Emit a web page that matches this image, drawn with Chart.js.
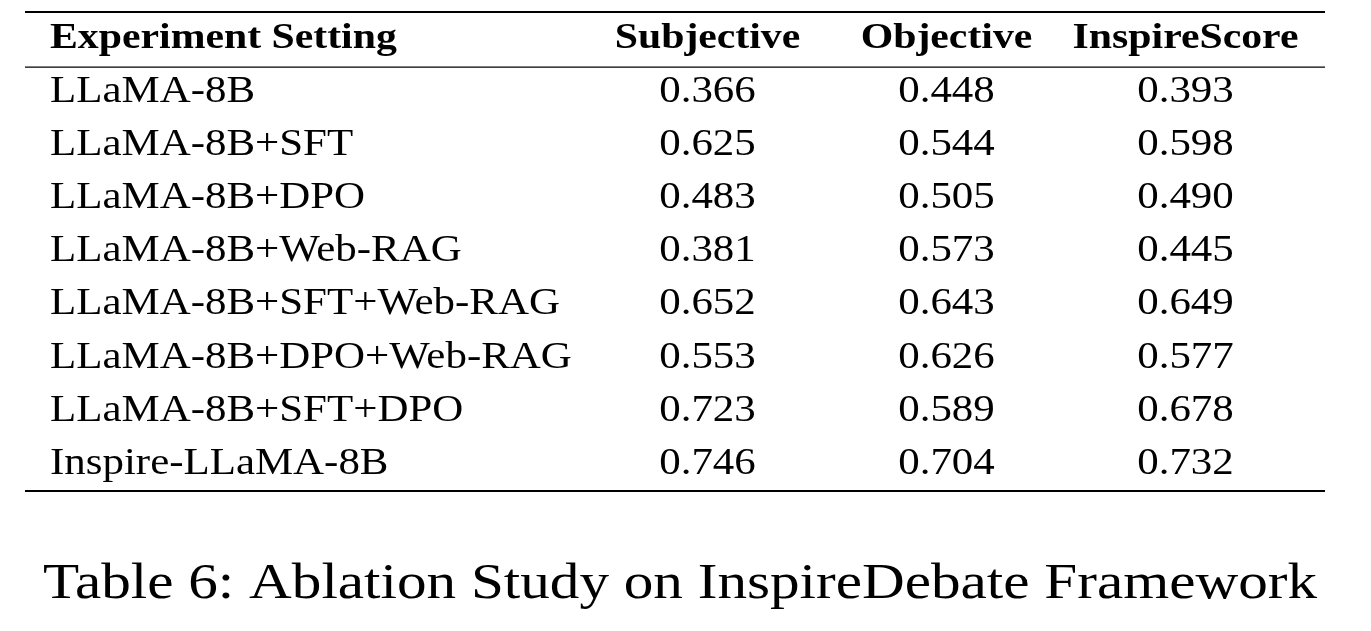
<!DOCTYPE html>
<html>
<head>
<meta charset="utf-8">
<script src="https://cdn.jsdelivr.net/npm/chart.js@4/dist/chart.umd.min.js"></script>
<style>
  html, body { margin: 0; padding: 0; background: #fff; }
  canvas { display: block; }
</style>
</head>
<body>
<canvas id="c" width="1371" height="631"></canvas>
<script>
const columns = ['Subjective', 'Objective', 'InspireScore'];
const firstHeader = 'Experiment Setting';
const settings = [
  'LLaMA-8B',
  'LLaMA-8B+SFT',
  'LLaMA-8B+DPO',
  'LLaMA-8B+Web-RAG',
  'LLaMA-8B+SFT+Web-RAG',
  'LLaMA-8B+DPO+Web-RAG',
  'LLaMA-8B+SFT+DPO',
  'Inspire-LLaMA-8B'
];
const subjective = [0.366, 0.625, 0.483, 0.381, 0.652, 0.553, 0.723, 0.746];
const objective = [0.448, 0.544, 0.505, 0.573, 0.643, 0.626, 0.589, 0.704];
const inspireScore = [0.393, 0.598, 0.490, 0.445, 0.649, 0.577, 0.678, 0.732];
const caption = 'Table 6: Ablation Study on InspireDebate Framework';

const series = [subjective, objective, inspireScore];
const rowLabels = ['header'].concat(settings);

const serif = '"Liberation Serif", "Times New Roman", serif';
const stretch = 1.16; // reference text is wider than Liberation Serif

function text(ctx, s, px, py) {
  ctx.save();
  ctx.translate(px, py);
  ctx.scale(stretch, 1);
  ctx.fillText(s, 0, 0);
  ctx.restore();
}

// draws the table text and rules at the scales' pixel positions
const tablePlugin = {
  id: 'table',
  afterDraw(chart) {
    const ctx = chart.ctx;
    const x = chart.scales.x, y = chart.scales.y;
    const area = chart.chartArea;
    const left = 25, right = 1325;
    ctx.save();
    ctx.fillStyle = '#000';
    ctx.textBaseline = 'middle';

    // header
    ctx.font = 'bold 36px ' + serif;
    ctx.textAlign = 'left';
    text(ctx, firstHeader, 50, y.getPixelForValue(0));
    ctx.textAlign = 'center';
    columns.forEach((c, i) => text(ctx, c, x.getPixelForValue(i), y.getPixelForValue(0)));

    // body
    ctx.font = '37px ' + serif;
    settings.forEach((s, r) => {
      const py = y.getPixelForValue(r + 1);
      ctx.textAlign = 'left';
      text(ctx, s, 50, py);
      ctx.textAlign = 'center';
      series.forEach((vals, i) => text(ctx, vals[r].toFixed(3), x.getPixelForValue(i), py));
    });

    // rules
    const rule = (py, w) => {
      ctx.lineWidth = w;
      ctx.beginPath();
      ctx.moveTo(left, py);
      ctx.lineTo(right, py);
      ctx.stroke();
    };
    const half = (y.getPixelForValue(1) - y.getPixelForValue(0)) / 2;
    rule(area.top, 2);
    rule(y.getPixelForValue(0) + half + 2, 1.3);
    rule(area.bottom, 2);

    // caption
    ctx.font = '51px ' + serif;
    ctx.textAlign = 'center';
    text(ctx, caption, 680, 585);
    ctx.restore();
  }
};

new Chart(document.getElementById('c'), {
  type: 'bar',
  data: { labels: columns, datasets: [] },
  options: {
    responsive: false,
    animation: false,
    layout: { padding: { left: 588, right: 66, top: 12, bottom: 140 } },
    plugins: { legend: { display: false }, tooltip: { enabled: false } },
    scales: {
      x: { type: 'category', labels: columns, offset: true, display: false },
      y: { type: 'category', labels: rowLabels, offset: true, display: false }
    }
  },
  plugins: [tablePlugin]
});
</script>
</body>
</html>
